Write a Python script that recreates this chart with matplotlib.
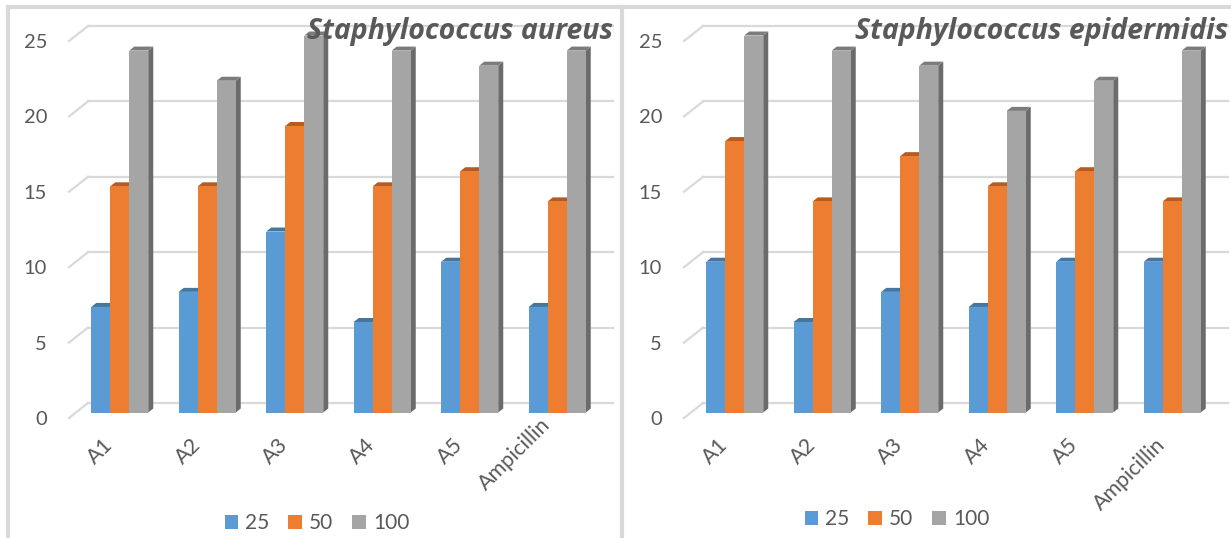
import matplotlib
matplotlib.use("Agg")
import matplotlib.pyplot as plt
from matplotlib.patches import Polygon, Patch
from matplotlib.lines import Line2D
import numpy as np

categories = ["A1", "A2", "A3", "A4", "A5", "Ampicillin"]
series_names = ["25", "50", "100"]

aureus_25 = [7, 8, 12, 6, 10, 7]
aureus_50 = [15, 15, 19, 15, 16, 14]
aureus_100 = [24, 22, 25, 24, 23, 24]

epidermidis_25 = [10, 6, 8, 7, 10, 10]
epidermidis_50 = [18, 14, 17, 15, 16, 14]
epidermidis_100 = [25, 24, 23, 20, 22, 24]

yticks = [0, 5, 10, 15, 20, 25]

front_colors = ["#5B9BD5", "#ED7D31", "#A5A5A5"]
top_colors = ["#44769F", "#B45C22", "#7C7C7C"]
side_colors = ["#3E6B93", "#A55520", "#6B6B6B"]
grid_color = "#D9D9D9"
text_color = "#595959"

plt.rcParams["font.family"] = ["Lato", "DejaVu Sans"]

W, H = 1231, 538
fig = plt.figure(figsize=(W / 100, H / 100), dpi=100)

# pixel size of one category slot / one value unit
XU = 87.5
YU = 15.08
# half depth of the floor, and depth of each bar
DX, DY = 9.5 / XU, 7.5 / YU
BX, BY = 5 / XU, 4 / YU
BW = 19 / XU


def px_box(x0, x1, ytop, ybot):
    return [x0 / W, 1 - ybot / H, (x1 - x0) / W, (ybot - ytop) / H]


def draw_panel(off, title, data, last_lift):
    ax = fig.add_axes(px_box(78.5 + off, 603.5 + off, 410.5 - 25 * YU, 410.5))
    ax.set_xlim(-0.5, 5.5)
    ax.set_ylim(0, 25)
    ax.axis("off")

    # walls: slanted side-wall segment + horizontal back-wall line
    for v in yticks:
        ax.plot([-0.5 - DX, -0.5 + DX], [v - DY, v + DY], color=grid_color,
                lw=1.6, clip_on=False, zorder=1)
        ax.plot([-0.5 + DX, 5.5 + DX], [v + DY, v + DY], color=grid_color,
                lw=1.6, clip_on=False, zorder=1)
        ax.text(-0.5 - DX - 22 / XU, v - DY - 1.5 / YU, str(v), ha="right",
                va="center", fontsize=14.5, color=text_color)

    x = np.arange(len(categories))
    for j, vals in enumerate(data):
        xs = x + (j - 1) * BW - BX / 2
        z = 3 + j
        for xc, v in zip(xs, vals):
            l, r = xc - BW / 2, xc + BW / 2
            side = [(r, -BY / 2), (r + BX, BY / 2), (r + BX, v + BY / 2), (r, v - BY / 2)]
            top = [(l, v - BY / 2), (r, v - BY / 2), (r + BX, v + BY / 2), (l + BX, v + BY / 2)]
            ax.add_patch(Polygon(side, closed=True, fc=side_colors[j], lw=0,
                                 zorder=z, clip_on=False))
            ax.add_patch(Polygon(top, closed=True, fc=top_colors[j], lw=0,
                                 zorder=z, clip_on=False))
        ax.bar(xs, vals, width=BW, bottom=-BY / 2, color=front_colors[j],
               lw=0, zorder=z, clip_on=False)

    for i, name in enumerate(categories):
        lift = last_lift if i == len(categories) - 1 else 0
        ax.text(i - DX - 3 / XU, -DY - (24 - lift) / YU, name, rotation=45,
                rotation_mode="anchor", ha="right", va="center",
                fontsize=15.5, color=text_color)

    ax.text(5.5 + DX, 25 + DY - 13 / YU, title, ha="right", va="baseline",
            fontsize=20.5, fontweight="bold", fontstyle="italic",
            family=["Open Sans", "DejaVu Sans"], color=text_color, zorder=10)
    return ax


draw_panel(0, "Staphylococcus aureus", [aureus_25, aureus_50, aureus_100], 20)
draw_panel(615, "Staphylococcus epidermidis",
           [epidermidis_25, epidermidis_50, epidermidis_100], 0)

handles = [Patch(facecolor=c, edgecolor="none") for c in front_colors]
for cx, cy in [(317, 523), (897, 519)]:
    fig.legend(handles, series_names, loc="center", ncol=3, frameon=False,
               bbox_to_anchor=(cx / W, 1 - cy / H), fontsize=15,
               labelcolor=text_color, handlelength=0.65, handleheight=0.65,
               handletextpad=0.35, columnspacing=0.9)

# panel frames
border = dict(color=grid_color, lw=3)
fig.add_artist(Line2D([8 / W, 8 / W], [0, 1 - 7 / H], **border))
fig.add_artist(Line2D([622 / W, 622 / W], [0, 1 - 7 / H], **border))
fig.add_artist(Line2D([8 / W, 1], [1 - 7 / H, 1 - 7 / H], **border))

fig.savefig("out.png", dpi=100)
